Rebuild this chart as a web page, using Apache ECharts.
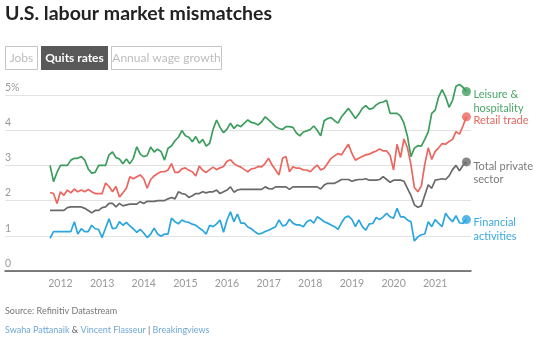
<!DOCTYPE html>
<html>
<head>
<meta charset="utf-8">
<script src="https://cdn.jsdelivr.net/npm/echarts@6/dist/echarts.min.js"></script>
<style>
html,body{margin:0;padding:0;background:#fff;}
#chart{width:533px;height:341px;}
</style>
</head>
<body>
<div id="chart"></div>
<script>
// Monthly observations, starting October 2011
const startYear = 2011;
const startMonth = 10; // October
const yearTicks = [2012, 2013, 2014, 2015, 2016, 2017, 2018, 2019, 2020, 2021];
const yTicks = [0, 1, 2, 3, 4, 5];

const leisure = [3.0,2.54,2.8,3.0,3.0,3.0,3.15,3.2,3.2,3.25,
  3.15,2.9,2.78,2.8,3.0,3.0,3.0,3.3,3.38,3.22,
  3.18,3.05,3.18,3.05,3.2,3.53,3.32,3.25,3.28,3.52,
  3.38,3.46,3.39,3.15,3.49,3.55,3.7,3.8,3.99,3.84,
  3.8,3.67,3.82,3.63,3.74,3.55,3.63,4.03,4.29,4.08,
  3.93,4.03,4.2,4.05,4.15,4.1,4.2,4.29,4.22,4.2,
  4.15,4.24,4.38,4.29,4.2,4.1,4.05,4.02,4.1,4.1,
  4.08,3.92,3.84,3.95,3.98,4.02,4.12,4.0,3.84,4.27,
  4.33,4.36,4.27,4.2,4.38,4.5,4.62,4.48,4.33,4.46,
  4.62,4.7,4.6,4.62,4.72,4.78,4.8,4.85,4.48,4.48,
  4.48,4.4,4.2,3.83,3.25,3.49,3.56,3.55,3.74,3.95,
  4.48,4.57,4.95,5.15,4.95,4.65,4.85,5.25,5.3,5.22,
  5.1];

const retail = [2.23,2.2,1.92,2.25,2.15,2.3,2.22,2.33,2.25,2.3,
  2.25,2.32,2.25,2.2,2.2,2.2,2.5,2.4,2.25,2.4,
  2.1,2.22,2.35,2.68,2.62,2.68,2.73,2.62,2.35,2.6,
  2.7,2.77,2.82,2.82,2.87,3.05,2.8,2.8,2.9,2.93,
  2.86,2.82,2.7,2.98,2.86,2.8,2.88,2.95,2.88,2.93,
  2.97,3.12,3.16,3.05,2.99,2.95,2.88,2.82,2.9,2.92,
  2.97,2.96,3.06,3.2,3.01,2.87,2.73,3.2,3.25,2.82,
  2.96,2.92,2.92,2.87,2.87,2.82,2.92,3.01,2.87,2.92,
  3.06,3.2,3.27,3.34,3.3,3.46,3.6,3.34,3.15,3.2,
  3.25,3.3,3.32,3.37,3.41,3.47,3.41,3.41,3.29,2.87,
  3.6,3.22,3.75,3.5,3.03,2.37,2.25,2.41,3.03,3.5,
  3.17,3.4,3.5,3.62,3.6,3.68,3.74,3.96,3.89,4.12,
  4.38];

const totalPrivate = [1.72,1.72,1.72,1.72,1.72,1.8,1.82,1.82,1.82,1.82,
  1.78,1.72,1.65,1.72,1.72,1.8,1.82,1.92,1.92,1.82,
  1.92,1.85,1.88,1.9,1.9,1.9,1.97,1.92,1.98,1.98,
  1.98,2.0,2.0,2.0,2.05,2.09,2.05,2.25,2.2,2.18,
  2.09,2.14,2.2,2.2,2.25,2.22,2.25,2.25,2.3,2.2,
  2.25,2.3,2.39,2.24,2.3,2.32,2.32,2.32,2.32,2.32,
  2.32,2.32,2.39,2.34,2.33,2.39,2.39,2.39,2.39,2.32,
  2.39,2.39,2.39,2.39,2.39,2.39,2.39,2.39,2.33,2.44,
  2.49,2.49,2.49,2.54,2.6,2.6,2.6,2.55,2.58,2.6,
  2.6,2.62,2.58,2.58,2.58,2.6,2.68,2.6,2.52,2.58,
  2.58,2.58,2.55,2.35,2.15,1.88,1.81,1.85,2.15,2.45,
  2.35,2.58,2.6,2.62,2.6,2.7,2.88,3.0,2.85,3.0,
  3.1];

const financial = [0.93,1.12,1.12,1.12,1.12,1.12,1.12,1.4,1.05,1.2,
  1.12,1.12,1.3,1.2,1.18,0.95,1.22,1.48,1.2,1.22,
  1.4,1.3,1.38,1.28,1.2,1.1,1.18,1.08,0.95,1.05,
  1.22,1.05,0.99,1.05,1.05,1.5,1.4,1.34,1.45,1.4,
  1.38,1.33,1.3,1.22,1.15,1.05,1.3,1.26,1.34,1.45,
  1.1,1.45,1.68,1.4,1.62,1.36,1.36,1.25,1.2,1.12,
  1.05,1.07,1.12,1.16,1.21,1.26,1.45,1.28,1.31,1.47,
  1.36,1.31,1.31,1.26,1.4,1.45,1.36,1.54,1.48,1.4,
  1.36,1.31,1.26,1.18,1.37,1.52,1.56,1.47,1.26,1.45,
  1.26,1.16,1.34,1.35,1.52,1.46,1.54,1.64,1.54,1.5,
  1.78,1.54,1.54,1.45,1.4,0.85,0.97,1.03,1.05,1.4,
  1.26,1.46,1.35,1.26,1.64,1.5,1.4,1.57,1.37,1.35,
  1.46];

const seriesDefs = [
  {name: 'Leisure & hospitality', label: 'Leisure &\nhospitality', data: leisure, color: '#3d9d5c', text: '#4aa568', dy: 10},
  {name: 'Retail trade', label: 'Retail trade', data: retail, color: '#ec655e', text: '#e8675f', dy: 4},
  {name: 'Total private sector', label: 'Total private\nsector', data: totalPrivate, color: '#696969', text: '#7a7a7a', dy: 11},
  {name: 'Financial activities', label: 'Financial\nactivities', data: financial, color: '#2ba6dd', text: '#3aa9dd', dy: 10}
];

function monthX(i) {
  return startYear + (startMonth - 1 + i) / 12;
}

const FONT = 'Lato';
const chart = echarts.init(document.getElementById('chart'), null, {renderer: 'canvas'});

const series = [];
seriesDefs.forEach(function (d) {
  const pts = d.data.map(function (v, i) { return [monthX(i), v]; });
  series.push({
    name: d.name,
    type: 'line',
    data: pts,
    showSymbol: false,
    clip: false,
    lineStyle: {color: d.color, width: 1.7},
    itemStyle: {color: d.color},
    emphasis: {disabled: true},
    endLabel: {
      show: true,
      formatter: d.label,
      color: d.text,
      fontFamily: FONT,
      fontSize: 11,
      lineHeight: 13.5,
      distance: 7,
      offset: [0, d.dy],
      align: 'left'
    },
    z: 3
  });
  series.push({
    name: d.name + ' end',
    type: 'scatter',
    data: [pts[pts.length - 1]],
    symbol: 'circle',
    symbolSize: 9,
    clip: false,
    itemStyle: {color: d.color},
    emphasis: {disabled: true},
    silent: true,
    z: 4
  });
});

const option = {
  animation: false,
  backgroundColor: '#fff',
  grid: {left: 5, right: 62, top: 95, bottom: 70, containLabel: false},
  xAxis: {
    type: 'value',
    min: 2010.668,
    max: 2021.86,
    axisLine: {show: true, lineStyle: {color: '#555', width: 1.5}},
    axisTick: {show: false},
    splitLine: {show: false},
    axisLabel: {
      customValues: yearTicks,
      formatter: function (v) { return String(Math.round(v)); },
      color: '#999',
      fontFamily: FONT,
      fontSize: 10.5,
      margin: 7
    }
  },
  yAxis: {
    type: 'value',
    min: yTicks[0],
    max: yTicks[yTicks.length - 1],
    interval: 1,
    axisLine: {show: false},
    axisTick: {show: false},
    splitLine: {show: true, lineStyle: {color: '#e2e2e2', width: 1}},
    axisLabel: {
      inside: true,
      margin: 0,
      verticalAlign: 'bottom',
      padding: [0, 0, 2, 0],
      formatter: function (v) { return v === 5 ? '5%' : String(v); },
      color: '#999',
      fontFamily: FONT,
      fontSize: 10.5
    }
  },
  series: series,
  graphic: [
    {type: 'text', left: 5, top: 4, style: {text: 'U.S. labour market mismatches', font: 'bold 19.5px Lato', fill: '#222'}},
    {type: 'rect', shape: {x: 5.5, y: 46.5, width: 32, height: 23}, style: {fill: '#fff', stroke: '#c4c4c4', lineWidth: 1}},
    {type: 'text', x: 21.5, y: 58, style: {text: 'Jobs', font: '12px Lato', fill: '#bdbdbd', align: 'center', verticalAlign: 'middle'}},
    {type: 'rect', shape: {x: 41, y: 46, width: 67, height: 24}, style: {fill: '#595959'}},
    {type: 'text', x: 74.5, y: 58, style: {text: 'Quits rates', font: 'bold 12px Lato', fill: '#fff', align: 'center', verticalAlign: 'middle'}},
    {type: 'rect', shape: {x: 111.5, y: 46.5, width: 110, height: 23}, style: {fill: '#fff', stroke: '#c4c4c4', lineWidth: 1}},
    {type: 'text', x: 166.5, y: 58, style: {text: 'Annual wage growth', font: '12px Lato', fill: '#bdbdbd', align: 'center', verticalAlign: 'middle'}},
    {type: 'text', x: 5, y: 311, style: {text: 'Source: Refinitiv Datastream', font: '9px Lato', fill: '#777', verticalAlign: 'middle'}},
    {type: 'text', x: 5, y: 330, style: {
      text: '{a|Swaha Pattanaik}{b| & }{a|Vincent Flasseur}{b| | }{a|Breakingviews}',
      verticalAlign: 'middle',
      font: '9px Lato',
      rich: {
        a: {fill: '#6fa8d6', font: '9px Lato'},
        b: {fill: '#666', font: '9px Lato'}
      }
    }}
  ]
};
chart.setOption(option);
</script>
</body>
</html>
